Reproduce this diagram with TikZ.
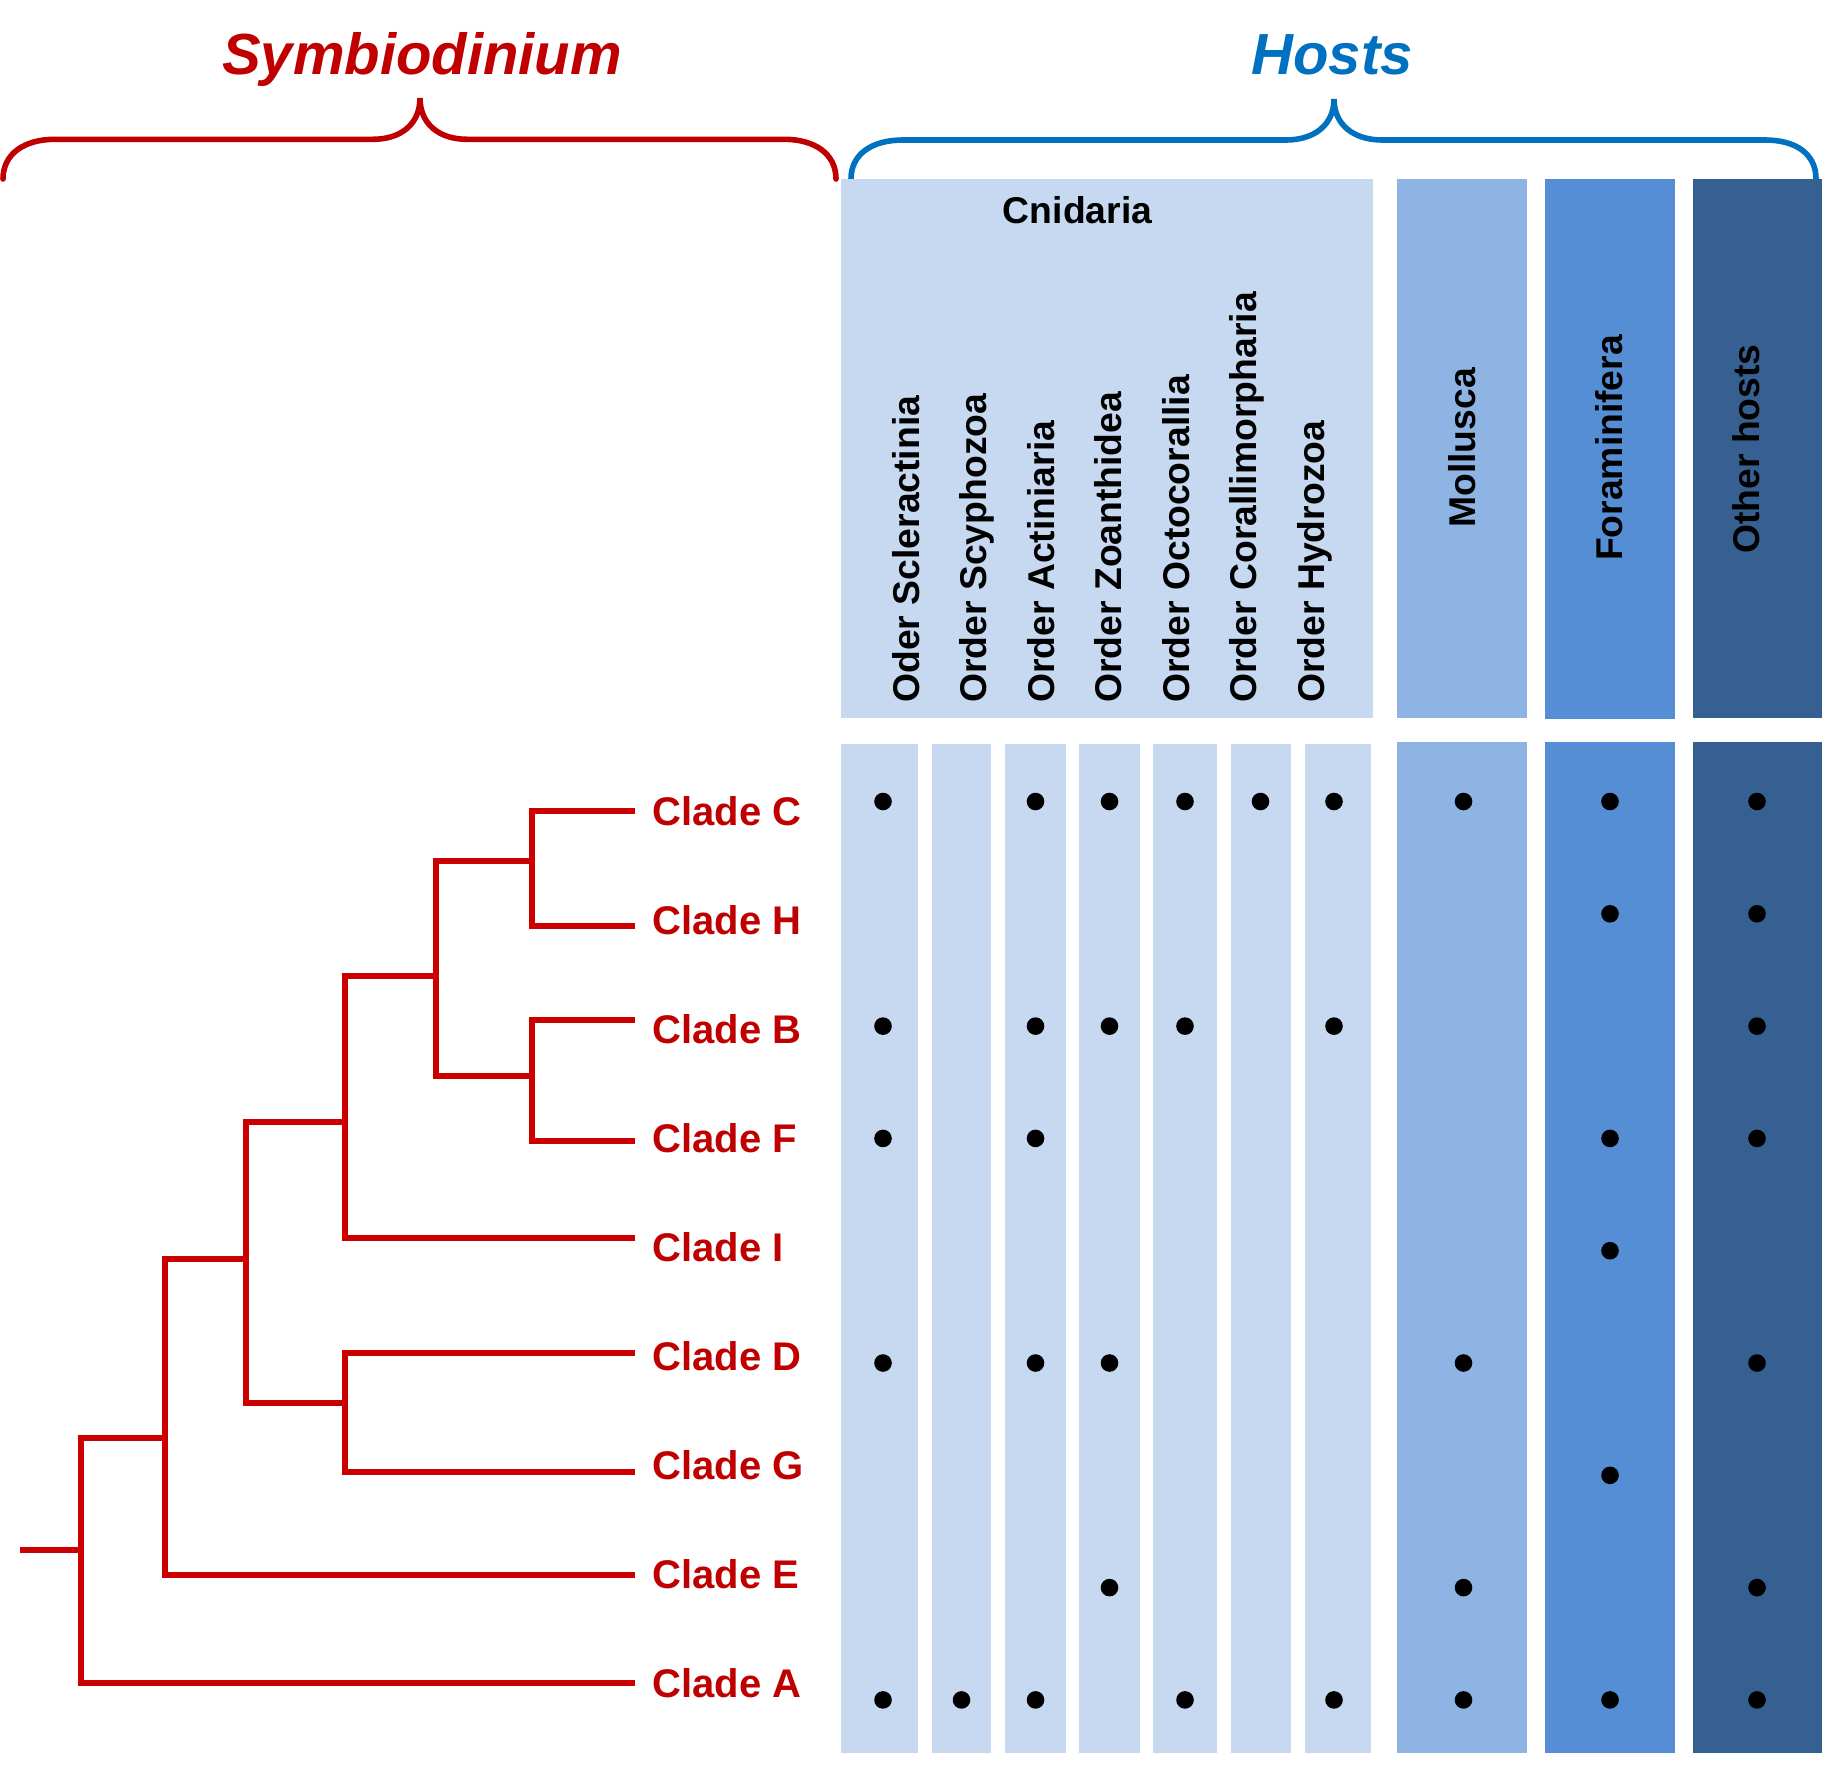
\documentclass[tikz,border=0pt]{standalone}
\usepackage{fontspec}
\setmainfont{Liberation Sans}
\definecolor{symred}{HTML}{C00000}
\definecolor{treered}{HTML}{CC0000}
\definecolor{hostblue}{HTML}{0070C0}
\definecolor{cnid}{HTML}{C6D9F1}
\definecolor{moll}{HTML}{8EB4E3}
\definecolor{foram}{HTML}{558ED5}
\definecolor{other}{HTML}{376092}
\tikzset{
  tree/.style={draw=treered, line width=2.8pt, line join=miter, line cap=rect},
  brace/.style={line width=2.8pt, line cap=round},
  cladelbl/.style={anchor=west, inner sep=0pt, text=symred, font=\fontsize{20pt}{24pt}\selectfont\bfseries},
  orderlbl/.style={rotate=90, anchor=base west, inner sep=0pt, font=\fontsize{18.65pt}{22pt}\selectfont\bfseries},
  grouplbl/.style={rotate=90, anchor=center, inner sep=0pt, font=\fontsize{18.65pt}{22pt}\selectfont\bfseries},
  title/.style={anchor=base, inner sep=0pt, font=\fontsize{29pt}{34pt}\selectfont\bfseries\itshape},
  dot/.style={circle, fill=black, inner sep=0pt, minimum size=8.8pt}
}
\begin{document}
\begin{tikzpicture}[x=0.5pt, y=-0.5pt]
\useasboundingbox (0,0) rectangle (1834,1766);
\fill[white] (0,0) rectangle (1834,1766);

% ---------- titles and braces ----------
\node[title, text=symred] (tsym) at (422,75) {Symbiodinium};
\node[title, text=hostblue] (thost) at (1332,75) {Hosts};
\draw[brace, draw=symred] (3,179) .. controls (3,154) and (24,139.3) .. (55,139.3) -- (373,139.3)
  .. controls (401,139.3) and (420,124) .. (420,98)
  .. controls (420,124) and (439,139.3) .. (467,139.3) -- (784,139.3)
  .. controls (815,139.3) and (836,154) .. (836,179);
\draw[brace, draw=hostblue] (851,179) .. controls (851,154) and (872,140) .. (903,140) -- (1286,140)
  .. controls (1314,140) and (1334,125) .. (1334,99)
  .. controls (1334,125) and (1354,140) .. (1382,140) -- (1765,140)
  .. controls (1796,140) and (1816,154) .. (1816,179);

% ---------- header boxes ----------
\fill[cnid] (841,179) rectangle (1372.5,717.5);
\fill[moll] (1397,179) rectangle (1527,717.5);
\fill[foram] (1545,179) rectangle (1675,718.5);
\fill[other] (1693,179) rectangle (1822,717.5);

\node[anchor=base, inner sep=0pt, font=\fontsize{18.65pt}{22pt}\selectfont\bfseries] (cnidaria) at (1077.6,223) {Cnidaria};
\node[orderlbl] (o1) at (919,703) {Oder Scleractinia};
\node[orderlbl] (o2) at (986.4,703) {Order Scyphozoa};
\node[orderlbl] (o3) at (1054.5,703) {Order Actiniaria};
\node[orderlbl] (o4) at (1121.5,703) {Order Zoanthidea};
\node[orderlbl] (o5) at (1189.5,703) {Order Octocorallia};
\node[orderlbl] (o6) at (1256.5,703) {Order Corallimorpharia};
\node[orderlbl] (o7) at (1324.5,703) {Order Hydrozoa};
\node[grouplbl] (gm) at (1462,448) {Mollusca};
\node[grouplbl] (gf) at (1609,448) {Foraminifera};
\node[grouplbl] (go) at (1746,449) {Other hosts};

% ---------- column boxes ----------
\fill[cnid] (841,744) rectangle (918,1753);
\fill[cnid] (931.5,744) rectangle (991,1753);
\fill[cnid] (1004.5,744) rectangle (1065.5,1753);
\fill[cnid] (1079,744) rectangle (1140,1753);
\fill[cnid] (1153,744) rectangle (1217,1753);
\fill[cnid] (1230.5,744) rectangle (1291,1753);
\fill[cnid] (1305,744) rectangle (1371,1753);
\fill[moll] (1397,742) rectangle (1527,1753);
\fill[foram] (1545,742) rectangle (1675,1753);
\fill[other] (1693,742) rectangle (1822,1753);

% ---------- dots ----------
% columns: 1 Scler, 2 Scyph, 3 Actin, 4 Zoanth, 5 Octo, 6 Coralli, 7 Hydro, 8 Moll, 9 Foram, 10 Other
\def\colx#1{\ifcase#1\or883\or961.5\or1035.5\or1109.5\or1185\or1260.5\or1334\or1463.5\or1610\or1757\fi}
\foreach \r/\cols in {0/{1,3,4,5,6,7,8,9,10}, 1/{9,10}, 2/{1,3,4,5,7,10}, 3/{1,3,9,10},
                      4/{9}, 5/{1,3,4,8,10}, 6/{9}, 7/{4,8,10}, 8/{1,2,3,5,7,8,9,10}}{
  \foreach \c in \cols {
    \node[dot] (d\r-\c) at ({\colx{\c}}, {801.5+112.3*\r}) {};
  }
}

% ---------- tree ----------
\coordinate (lC) at (632,811);
\coordinate (lH) at (632,926);
\coordinate (lB) at (632,1020);
\coordinate (lF) at (632,1141);
\coordinate (lI) at (632,1238);
\coordinate (lD) at (632,1353);
\coordinate (lG) at (632,1472);
\coordinate (lE) at (632,1575);
\coordinate (lA) at (632,1683);
\coordinate (nCH) at (532,861);
\coordinate (nBF) at (532,1076);
\coordinate (nCHBF) at (436,976);
\coordinate (nI) at (345,1122);
\coordinate (nDG) at (345,1403);
\coordinate (nX) at (246,1259);
\coordinate (nE) at (165,1437.7);
\coordinate (nA) at (81,1550);
\coordinate (root) at (23,1550);

\draw[tree] (lC) -- (lC -| nCH) -- (lH -| nCH) -- (lH);
\draw[tree] (lB) -- (lB -| nBF) -- (lF -| nBF) -- (lF);
\draw[tree] (nCH) -- (nCH -| nCHBF) -- (nBF -| nCHBF) -- (nBF);
\draw[tree] (nCHBF) -- (nCHBF -| nI) -- (lI -| nI) -- (lI);
\draw[tree] (lD) -- (lD -| nDG) -- (lG -| nDG) -- (lG);
\draw[tree] (nI) -- (nI -| nX) -- (nDG -| nX) -- (nDG);
\draw[tree] (nX) -- (nX -| nE) -- (lE -| nE) -- (lE);
\draw[tree] (nE) -- (nE -| nA) -- (lA -| nA) -- (lA);
\draw[tree] (root) -- (nA);

% ---------- clade labels ----------
\node[cladelbl] (cC) at (652,811) {Clade C};
\node[cladelbl] (cH) at (652,920) {Clade H};
\node[cladelbl] (cB) at (652,1029) {Clade B};
\node[cladelbl] (cF) at (652,1138) {Clade F};
\node[cladelbl] (cI) at (652,1247) {Clade I};
\node[cladelbl] (cD) at (652,1356) {Clade D};
\node[cladelbl] (cG) at (652,1465) {Clade G};
\node[cladelbl] (cE) at (652,1574) {Clade E};
\node[cladelbl] (cA) at (652,1683) {Clade A};
\end{tikzpicture}
\end{document}
